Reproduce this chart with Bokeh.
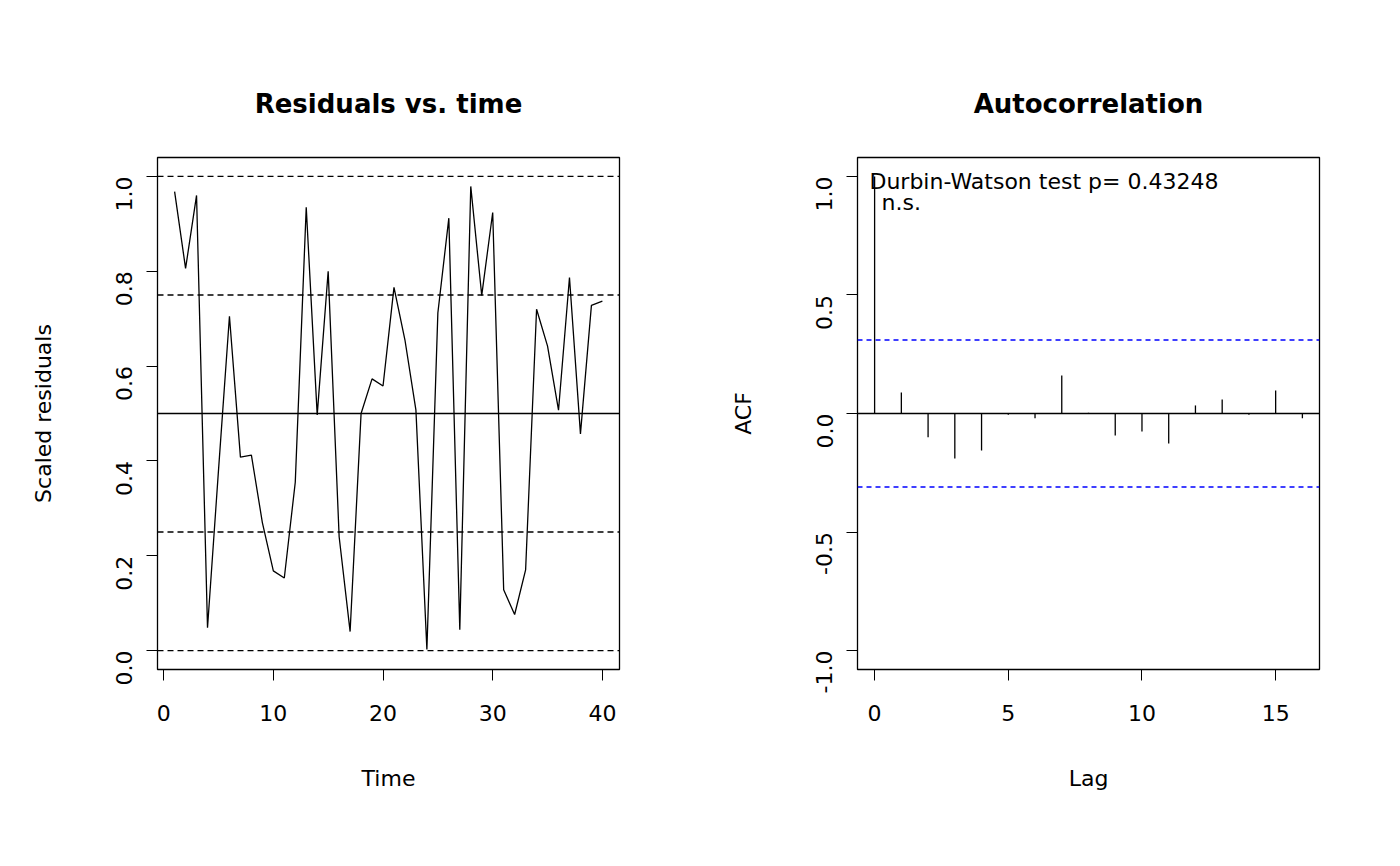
import math
from bokeh.plotting import figure
from bokeh.layouts import row
from bokeh.models import Range1d, FixedTicker, Span
from bokeh.core.properties import value
from bokeh.embed import file_html
from bokeh.resources import INLINE

time = list(range(1, 41))
resid = [0.968, 0.806, 0.96, 0.048, 0.38, 0.705, 0.408, 0.412, 0.27, 0.168,
         0.153, 0.355, 0.935, 0.497, 0.8, 0.24, 0.04, 0.5, 0.573, 0.558,
         0.766, 0.655, 0.507, 0.002, 0.712, 0.912, 0.044, 0.979, 0.749, 0.924,
         0.128, 0.076, 0.17, 0.72, 0.642, 0.507, 0.787, 0.457, 0.728, 0.737]
lags = list(range(0, 17))
acf = [1.0, 0.089, -0.10, -0.19, -0.156, -0.005, -0.02, 0.16, 0.003, -0.093,
       -0.076, -0.127, 0.034, 0.059, -0.005, 0.097, -0.02]
ci = 0.31
ref_dashed = [0.0, 0.25, 0.75, 1.0]
x_ticks_left = [0, 10, 20, 30, 40]
y_ticks_left = [0.0, 0.2, 0.4, 0.6, 0.8, 1.0]
x_ticks_right = [0, 5, 10, 15]
y_ticks_right = [-1.0, -0.5, 0.0, 0.5, 1.0]
test_text = "Durbin-Watson test  p= 0.43248"
sig_text = "n.s."

FONT = "DejaVu Sans"

def make_fig(title, xr, yr, xt, yt, xlabel, ylabel, right_border):
    p = figure(output_backend="svg", toolbar_location=None,
               x_range=Range1d(*xr), y_range=Range1d(*yr),
               frame_width=462, frame_height=512,
               min_border_left=157, min_border_top=157, min_border_right=right_border,
               min_border_bottom=180)
    p.title.text = title
    p.title.align = "center"
    p.title.text_font = FONT
    p.title.text_font_size = "26px"
    p.title.text_font_style = "bold"
    p.title.text_color = "black"
    p.title.standoff = 78
    p.grid.visible = False
    p.outline_line_color = "black"
    p.outline_line_width = 1.3
    for ax in (p.xaxis[0], p.yaxis[0]):
        ax.major_label_text_font = FONT
        ax.major_label_text_font_size = "22px"
        ax.major_label_text_color = "black"
        ax.axis_label_text_font = FONT
        ax.axis_label_text_font_size = "22px"
        ax.axis_label_text_font_style = "normal"
        ax.axis_label_text_color = "black"
        ax.minor_tick_line_color = None
        ax.major_tick_out = 11
        ax.major_tick_in = 0
        ax.axis_line_color = None
        ax.major_tick_line_color = "black"
    p.xaxis[0].ticker = FixedTicker(ticks=xt)
    p.yaxis[0].ticker = FixedTicker(ticks=yt)
    p.xaxis[0].major_label_standoff = 24
    p.yaxis[0].major_label_standoff = 22
    p.xaxis[0].axis_label = xlabel
    p.yaxis[0].axis_label = ylabel
    p.xaxis[0].axis_label_standoff = 42
    p.yaxis[0].axis_label_standoff = 50
    p.yaxis[0].major_label_orientation = math.pi / 2
    p.yaxis[0].major_label_overrides = {v: f"{v:.1f}" for v in yt}
    return p

p1 = make_fig("Residuals vs. time", (-0.56, 41.56), (-0.04, 1.04),
              x_ticks_left, y_ticks_left, "Time", "Scaled residuals", 81)
for v in ref_dashed:
    p1.add_layout(Span(location=v, dimension="width", line_color="black",
                       line_dash="6 4", line_width=1.3))
p1.add_layout(Span(location=0.5, dimension="width", line_color="black", line_width=1.3))
p1.line(time, resid, line_color="black", line_width=1.3)

p2 = make_fig("Autocorrelation", (-0.64, 16.64), (-1.08, 1.08),
              x_ticks_right, y_ticks_right, "Lag", "ACF", 60)
p2.segment(x0=lags, y0=[0] * len(lags), x1=lags, y1=acf, line_color="black", line_width=1.3)
p2.add_layout(Span(location=0, dimension="width", line_color="black", line_width=1.3))
for v in (ci, -ci):
    p2.add_layout(Span(location=v, dimension="width", line_color="blue",
                       line_dash="5 4", line_width=1.3))
p2.text(x=[13.12], y=[0.98], text=[test_text], text_align="right", text_baseline="middle",
        text_font=value(FONT), text_font_size="22px", text_color="black")
p2.text(x=[0.26], y=[0.89], text=[sig_text], text_align="left", text_baseline="middle",
        text_font=value(FONT), text_font_size="22px", text_color="black")

layout = row(p1, p2, spacing=0)
open("out.html", "w").write(file_html(layout, INLINE))
